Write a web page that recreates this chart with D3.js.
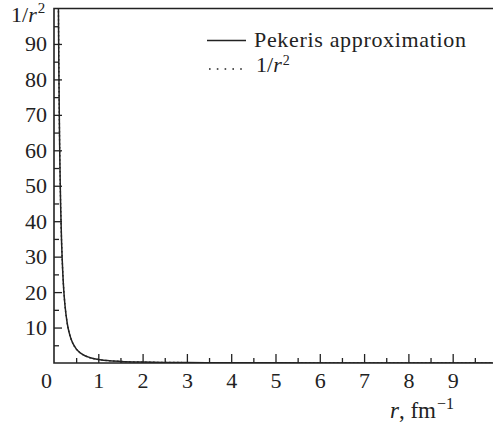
<!DOCTYPE html>
<html>
<head>
<meta charset="utf-8">
<script src="https://cdn.jsdelivr.net/npm/d3@7"></script>
<style>
  body { margin: 0; background: #fff; }
  svg { display: block; }
  text { font-family: "Liberation Serif", "DejaVu Serif", serif; fill: #222; }
</style>
</head>
<body>
<svg id="chart" width="493" height="425"></svg>
<script>
// ---- data ----
const rValues      = [0.09, 0.1, 0.11, 0.12, 0.13, 0.14, 0.15, 0.17, 0.2, 0.22, 0.25, 0.3, 0.35, 0.4, 0.5, 0.6, 0.7, 0.8, 1.0, 1.2, 1.5, 2.0, 2.5, 3.0, 4.0, 5.0, 6.0, 7.0, 8.0, 9.0, 9.9];
const pekerisVals  = [123, 100, 82.5, 69.4, 59.1, 51.0, 44.4, 34.6, 25.0, 20.6, 16.0, 11.1, 8.2, 6.25, 4.0, 2.8, 2.05, 1.57, 1.0, 0.7, 0.45, 0.25, 0.16, 0.11, 0.06, 0.04, 0.03, 0.02, 0.016, 0.012, 0.01];
const inverseVals  = [123, 100, 82.6, 69.4, 59.2, 51.0, 44.4, 34.6, 25.0, 20.7, 16.0, 11.1, 8.16, 6.25, 4.0, 2.78, 2.04, 1.56, 1.0, 0.69, 0.44, 0.25, 0.16, 0.11, 0.06, 0.04, 0.03, 0.02, 0.016, 0.012, 0.01];
const xMajorTicks  = [0, 1, 2, 3, 4, 5, 6, 7, 8, 9];
const xMinorTicks  = [0.5, 1.5, 2.5, 3.5, 4.5, 5.5, 6.5, 7.5, 8.5, 9.5];
const yMajorTicks  = [10, 20, 30, 40, 50, 60, 70, 80, 90];
const yMinorTicks  = [5, 15, 25, 35, 45, 55, 65, 75, 85, 95];
const legendLabels = ["Pekeris approximation", "1/r2"];

// ---- layout ----
const pLeft = 54, pRight = 493, pTop = 8.5, pBottom = 363;
const FS = 22;
const svg = d3.select("#chart");
const x = d3.scaleLinear().domain([0, 9.91]).range([pLeft, pRight]);
const y = d3.scaleLinear().domain([0, 100]).range([pBottom, pTop]);

svg.append("defs").append("clipPath").attr("id", "clip")
  .append("rect").attr("x", pLeft).attr("y", pTop).attr("width", pRight - pLeft).attr("height", pBottom - pTop);

// x axis minor ticks
svg.append("g").attr("transform", `translate(0,${pBottom})`)
  .call(d3.axisBottom(x).tickValues(xMinorTicks).tickSize(-5).tickFormat(""))
  .call(g => g.select(".domain").remove())
  .call(g => g.selectAll("line").attr("stroke", "#222").attr("stroke-width", 1.3));

// x axis major ticks + labels
const xAx = svg.append("g").attr("transform", `translate(0,${pBottom})`)
  .call(d3.axisBottom(x).tickValues(xMajorTicks).tickSize(-9).tickPadding(9.5).tickFormat(d3.format("d")))
  .call(g => g.select(".domain").remove())
  .call(g => g.selectAll("line").attr("stroke", "#222").attr("stroke-width", 1.3))
  .call(g => g.selectAll("text").attr("font-size", FS).attr("fill", "#222"));
xAx.selectAll(".tick").filter(d => d === 0).select("text").attr("x", -8);
xAx.selectAll(".tick").filter(d => d === 0).select("line").remove();

// y axis minor ticks
svg.append("g").attr("transform", `translate(${pLeft},0)`)
  .call(d3.axisLeft(y).tickValues(yMinorTicks).tickSize(-5).tickFormat(""))
  .call(g => g.select(".domain").remove())
  .call(g => g.selectAll("line").attr("stroke", "#222").attr("stroke-width", 1.3));

// y axis major ticks + labels
svg.append("g").attr("transform", `translate(${pLeft},0)`)
  .call(d3.axisLeft(y).tickValues(yMajorTicks).tickSize(-8).tickPadding(7).tickFormat(d3.format("d")))
  .call(g => g.select(".domain").remove())
  .call(g => g.selectAll("line").attr("stroke", "#222").attr("stroke-width", 1.3))
  .call(g => g.selectAll("text").attr("font-size", FS).attr("fill", "#222"));

// frame: left, bottom, top
svg.append("path")
  .attr("d", `M${pRight},${pTop}H${pLeft}V${pBottom}H${pRight}`)
  .attr("fill", "none").attr("stroke", "#222").attr("stroke-width", 1.6);

// curves
const line = d3.line().x((d, i) => x(rValues[i])).y(d => y(d)).curve(d3.curveMonotoneX);
const plot = svg.append("g").attr("clip-path", "url(#clip)");
plot.append("path").datum(pekerisVals).attr("d", line)
  .attr("fill", "none").attr("stroke", "#222").attr("stroke-width", 1.5);
plot.append("path").datum(inverseVals).attr("d", line)
  .attr("fill", "none").attr("stroke", "#222").attr("stroke-width", 1.4)
  .attr("stroke-dasharray", "1.5,2.5");

// legend
const lg = svg.append("g");
lg.append("line").attr("x1", 207).attr("x2", 246).attr("y1", 40.5).attr("y2", 40.5)
  .attr("stroke", "#222").attr("stroke-width", 1.6);
lg.append("text").attr("x", 254).attr("y", 47).attr("font-size", FS)
  .attr("textLength", 212).attr("lengthAdjust", "spacing").text(legendLabels[0]);
lg.append("line").attr("x1", 209).attr("x2", 242).attr("y1", 69).attr("y2", 69)
  .attr("stroke", "#222").attr("stroke-width", 1.6).attr("stroke-dasharray", "1.6,6.2");
const t2 = lg.append("text").attr("x", 256).attr("y", 72).attr("font-size", FS);
t2.append("tspan").text("1/");
t2.append("tspan").attr("font-style", "italic").text("r");
t2.append("tspan").attr("font-size", 14).attr("dy", -7).attr("dx", 1).text("2");

// y axis title
const yt = svg.append("text").attr("x", 11).attr("y", 22).attr("font-size", FS);
yt.append("tspan").text("1/");
yt.append("tspan").attr("font-style", "italic").text("r");
yt.append("tspan").attr("font-size", 15).attr("dy", -9).attr("dx", 1).text("2");

// x axis title
const xt = svg.append("text").attr("x", 390).attr("y", 418).attr("font-size", 23);
xt.append("tspan").attr("font-style", "italic").text("r");
xt.append("tspan").text(", fm");
xt.append("tspan").attr("font-size", 16).attr("dy", -9).attr("dx", 1).text("\u22121");
</script>
</body>
</html>
